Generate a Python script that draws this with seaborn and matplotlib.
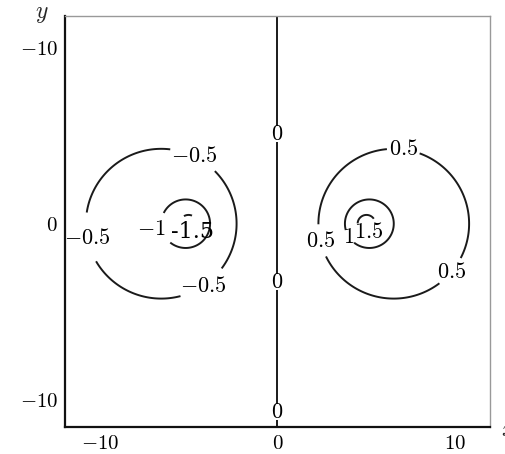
import numpy as np
import seaborn as sns
import matplotlib
matplotlib.use("Agg")
import matplotlib.pyplot as plt

# line charges of the 2D dipole
charge_x = [-5.0, 5.0]
charge_y = [0.0, 0.0]
charge_q = [-1.0, 1.0]
strength = 0.5

levels = [-1.5, -1.0, -0.5, 0.0, 0.5, 1.0, 1.5]
level_text = ['-1.5', '$-1$', '$-0.5$', '$0$', '$0.5$', '$1$', '$1.5$']

# where the contour labels sit
label_pos = [(-4.8, 3.6), (-10.25, -0.7), (-4.2, -3.5),
             (-7.0, -0.4), (-5.0, -0.35),
             (0.0, 5.1), (0.0, -3.3), (0.0, -10.7),
             (7.1, 4.1), (2.3, -1.0), (9.9, -2.8),
             (3.9, -0.85), (5.2, -0.6)]

x_ticks = [-10, 0, 10]
x_ticklabels = ['$-10$', '$0$', '$10$']
y_ticks = [10, 0, -10]
y_ticklabels = ['$-10$', '$0$', '$-10$']

sns.set_theme(style='white')
plt.rcParams['mathtext.fontset'] = 'cm'
plt.rcParams['contour.negative_linestyle'] = 'solid'
plt.rcParams['font.family'] = ['DejaVu Serif']

xs = np.linspace(-12, 12, 801)
ys = np.linspace(-11.6, 11.8, 801)
X, Y = np.meshgrid(xs, ys)
V = np.zeros_like(X)
for cx, cy, q in zip(charge_x, charge_y, charge_q):
    r = np.hypot(X - cx, Y - cy)
    r = np.maximum(r, 1e-6)
    V += -q * strength * np.log(r)

fig = plt.figure(figsize=(5.05, 4.54), dpi=100)
ax = fig.add_axes([0.1287, 0.0595, 0.8416, 0.9052])

cs = ax.contour(X, Y, V, levels=levels, colors='#1a1a1a', linewidths=1.4)
fmt = dict(zip(levels, level_text))
labels = ax.clabel(cs, fmt=fmt, manual=label_pos, fontsize=16, inline=True,
                   inline_spacing=2, colors='black')
for t in labels:
    t.set_rotation(0)
    # nudge the -1 label off the -1.5 one, as in the original
    if t.get_text() == '$-1$':
        px, py = t.get_position()
        t.set_position((px - 0.6, py))
    if t.get_text() == '-1.5':
        px, py = t.get_position()
        t.set_position((px + 0.2, py))

ax.set_xlim(-12, 12)
ax.set_ylim(-11.55, 11.8)
ax.set_xticks(x_ticks)
ax.set_xticklabels(x_ticklabels, fontsize=15)
ax.set_yticks(y_ticks)
ax.set_yticklabels(y_ticklabels, fontsize=15)
ax.tick_params(direction='out', length=4, width=1, colors='black', pad=1)

for side in ['left', 'bottom']:
    ax.spines[side].set_color('#111111')
    ax.spines[side].set_linewidth(1.6)
for side in ['top', 'right']:
    ax.spines[side].set_color('#999999')
    ax.spines[side].set_linewidth(1.0)

ax.text(-0.054, 1.005, '$y$', transform=ax.transAxes, fontsize=17,
        ha='center', va='center')
ax.text(1.025, -0.005, '$x$', transform=ax.transAxes, fontsize=17,
        ha='left', va='center')

fig.savefig('out.png', dpi=100)
